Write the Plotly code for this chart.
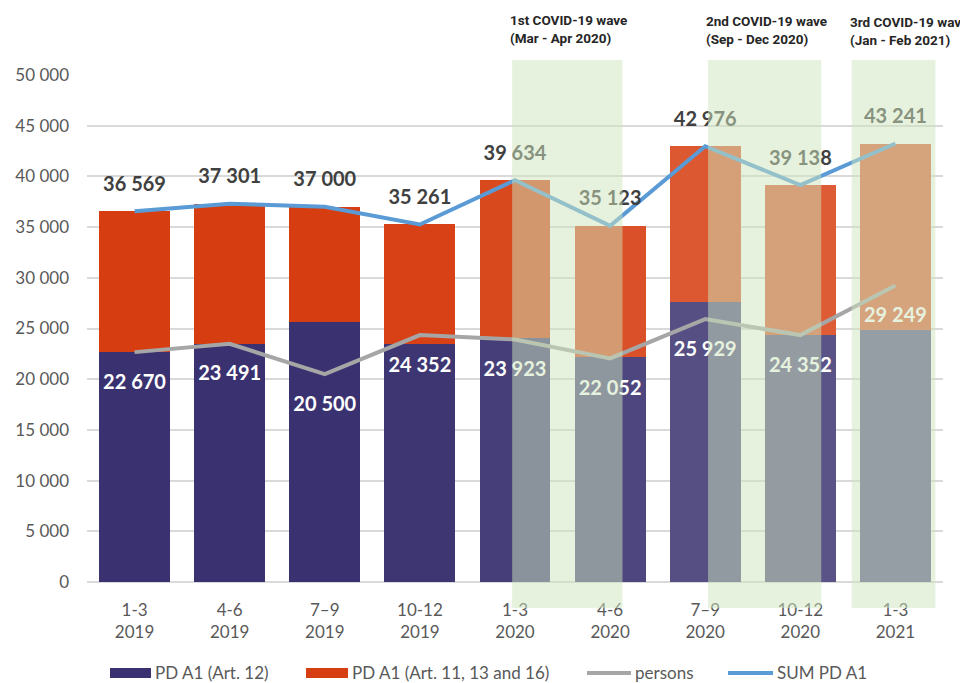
import plotly.graph_objects as go

# ---- data ----
quarters = ["1-3<br>2019", "4-6<br>2019", "7–9<br>2019", "10-12<br>2019",
            "1-3<br>2020", "4-6<br>2020", "7–9<br>2020", "10-12<br>2020", "1-3<br>2021"]
pd_art12 = [22670, 23491, 25620, 23500, 24040, 22170, 27650, 24370, 24860]
sum_pd_a1 = [36569, 37301, 37000, 35261, 39634, 35123, 42976, 39138, 43241]
persons = [22670, 23491, 20500, 24352, 23923, 22052, 25929, 24352, 29249]
pd_art11_13_16 = [s - a for s, a in zip(sum_pd_a1, pd_art12)]

waves = [
    {"label": "1st COVID-19 wave<br>(Mar - Apr 2020)", "x0": 3.97, "x1": 5.13},
    {"label": "2nd COVID-19 wave<br>(Sep - Dec 2020)", "x0": 6.03, "x1": 7.22},
    {"label": "3rd COVID-19 wave<br>(Jan - Feb 2021)", "x0": 7.54, "x1": 8.42},
]
y_ticks = list(range(0, 50001, 5000))
y_tick_text = [f"{v:,}".replace(",", " ") for v in y_ticks]

def fmt(v):
    return f"{v:,}".replace(",", " ")

# ---- styling ----
C_BLUE = (58, 50, 112)
C_ORANGE = (214, 61, 16)
C_GREY = "#A6A6A6"
C_SUM = "#5B9BD5"
FONT = "Lato, 'Open Sans', sans-serif"
NARROW = "'Liberation Sans Narrow', 'Arial Narrow', Roboto, sans-serif"

# faint light fade toward the right of the picture
fade = [0, 0, 0, 0.02, 0.06, 0.10, 0.14, 0.16, 0.18]

def tint(rgb, t):
    r, g, b = (round(c + (255 - c) * t) for c in rgb)
    return f"rgb({r},{g},{b})"

blue_cols = [tint(C_BLUE, t) for t in fade]
orange_cols = [tint(C_ORANGE, t) for t in fade]

# page has an 8px body margin
OFF = 8
W, H = 960, 675
ML, MR, MT, MB = 79, 25, 67, 101
PW, PH = W - ML - MR, H - MT - MB
PLOT_LEFT = OFF + ML
PLOT_BOTTOM = OFF + MT + PH

def px_x(px):
    return (px - PLOT_LEFT) / PW

def px_y(py):
    return (PLOT_BOTTOM - py) / PH

fig = go.Figure()
fig.add_trace(go.Bar(x=quarters, y=pd_art12, name="PD A1 (Art. 12)",
                     marker=dict(color=blue_cols, line=dict(width=0)), showlegend=False))
fig.add_trace(go.Bar(x=quarters, y=pd_art11_13_16, name="PD A1 (Art. 11, 13 and 16)",
                     marker=dict(color=orange_cols, line=dict(width=0)), showlegend=False))
fig.add_trace(go.Scatter(x=quarters, y=persons, name="persons", mode="lines",
                         line=dict(color=C_GREY, width=4), showlegend=False))
fig.add_trace(go.Scatter(x=quarters, y=sum_pd_a1, name="SUM PD A1", mode="lines",
                         line=dict(color=C_SUM, width=4), showlegend=False))
# labels
fig.add_trace(go.Scatter(x=quarters, y=sum_pd_a1, mode="markers+text",
                         text=[fmt(v) for v in sum_pd_a1], textposition="top center",
                         marker=dict(size=23, color="rgba(0,0,0,0)"),
                         textfont=dict(family=FONT, size=20, color="#404040", weight="bold"),
                         hoverinfo="skip", showlegend=False))
fig.add_trace(go.Scatter(x=quarters, y=persons, mode="markers+text",
                         text=[fmt(v) for v in persons], textposition="bottom center",
                         marker=dict(size=33, color="rgba(0,0,0,0)"),
                         textfont=dict(family=FONT, size=20, color="white", weight="bold"),
                         hoverinfo="skip", showlegend=False))

shapes = []
annotations = []
for w in waves:
    shapes.append(dict(type="rect", xref="x", yref="paper", x0=w["x0"], x1=w["x1"],
                       y0=px_y(608), y1=px_y(60), layer="above",
                       fillcolor="rgba(205,230,190,0.5)", line=dict(width=0)))
for w, yc in zip(waves, [28.5, 29.5, 31.5]):
    annotations.append(dict(xref="x", yref="paper", x=w["x0"], y=px_y(yc),
                            xanchor="left", yanchor="middle", align="left",
                            text=w["label"], showarrow=False, xshift=-4,
                            font=dict(family=NARROW, size=13.5, color="#262626", weight="bold")))

# custom legend
legend_items = [
    ("bar", tint(C_BLUE, 0), "PD A1 (Art. 12)", 110, 151),
    ("bar", tint(C_ORANGE, 0), "PD A1 (Art. 11, 13 and 16)", 306, 348),
    ("line", C_GREY, "persons", 587, 631),
    ("line", C_SUM, "SUM PD A1", 728, 773),
]
ly = 673
for kind, col, label, x0, x1 in legend_items:
    if kind == "bar":
        shapes.append(dict(type="rect", xref="paper", yref="paper",
                           x0=px_x(x0), x1=px_x(x1), y0=px_y(ly + 5), y1=px_y(ly - 5),
                           fillcolor=col, line=dict(width=0)))
    else:
        shapes.append(dict(type="line", xref="paper", yref="paper",
                           x0=px_x(x0), x1=px_x(x1), y0=px_y(ly), y1=px_y(ly),
                           line=dict(color=col, width=4)))
    annotations.append(dict(xref="paper", yref="paper", x=px_x(x1 + 4), y=px_y(ly - 1),
                            xanchor="left", yanchor="middle", text=label, showarrow=False,
                            borderpad=0, borderwidth=0,
                            font=dict(family=FONT, size=17, color="#595959")))

fig.update_layout(
    width=W, height=H, autosize=False,
    margin=dict(l=ML, r=MR, t=MT, b=MB),
    barmode="stack", bargap=0.254,
    plot_bgcolor="white", paper_bgcolor="white",
    showlegend=False,
    shapes=shapes, annotations=annotations,
    font=dict(family=FONT, color="#595959"),
)
fig.update_xaxes(range=[-0.5, len(quarters) - 0.5], showgrid=False, showline=False, ticks="",
                 tickfont=dict(size=17, color="#595959"), ticklabelstandoff=16,
                 automargin=False)
fig.update_yaxes(range=[0, 50000], tickvals=y_ticks, ticktext=y_tick_text,
                 showgrid=True, gridcolor="#D9D9D9", gridwidth=1.5, zeroline=True,
                 zerolinecolor="#D9D9D9", zerolinewidth=1.5,
                 showline=False, ticks="", tickfont=dict(size=17, color="#595959"),
                 ticklabelstandoff=17, automargin=False)

fig.write_html("out.html")
